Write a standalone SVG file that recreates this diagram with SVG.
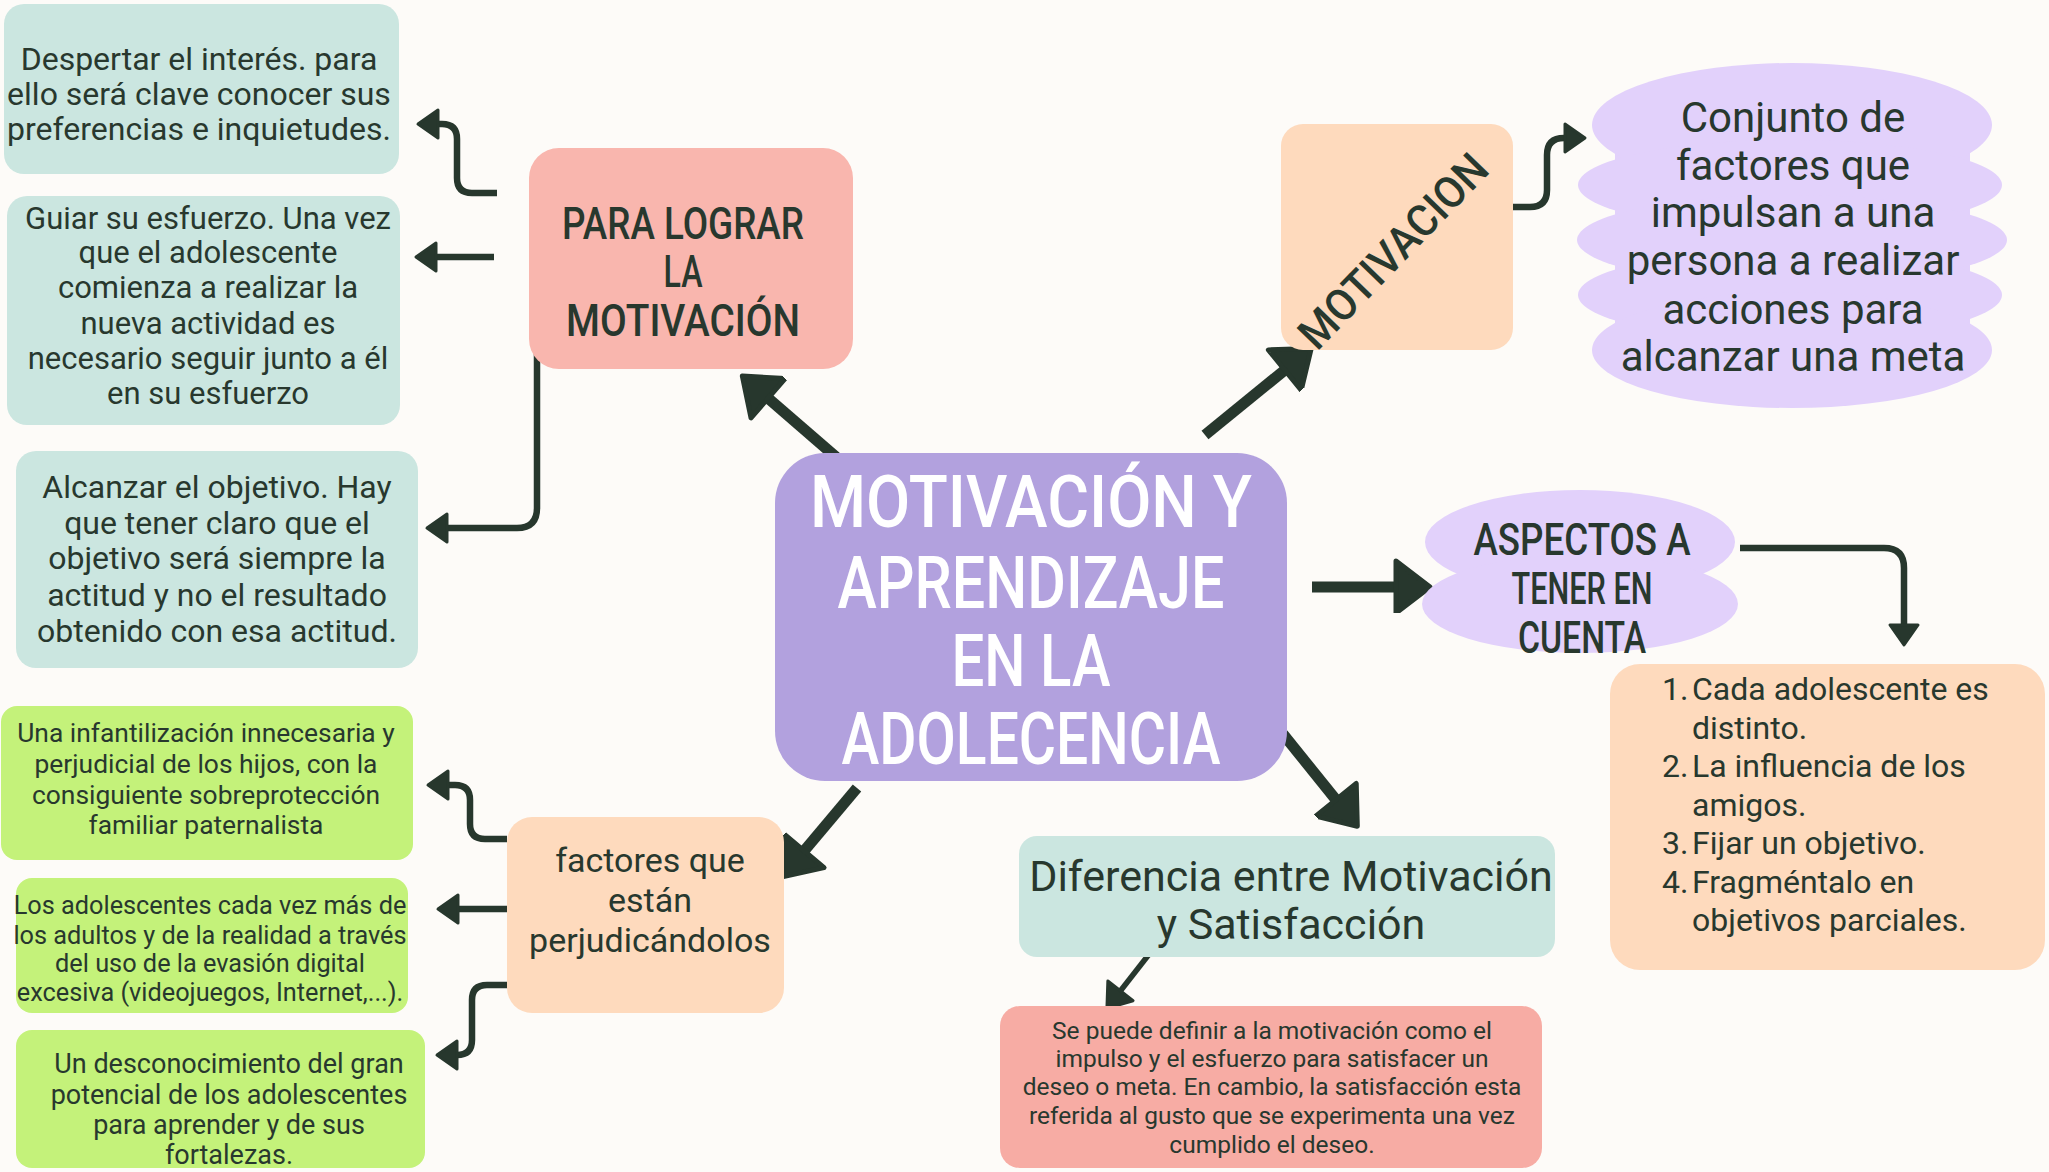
<svg xmlns="http://www.w3.org/2000/svg" width="2049" height="1172" viewBox="0 0 2049 1172">
<style>
  text { font-family: Roboto, "Liberation Sans", sans-serif; fill: #28382e; text-anchor: middle; }
  .body32 { font-size: 32px; }
  .head { font-size: 44px; font-weight: 500; }
  .title { font-size: 72px; font-weight: 500; fill: #ffffff; }
  .teal { fill: #cbe6e0; }
  .salmon { fill: #f9b6ae; }
  .salmon2 { fill: #f7aca4; }
  .purple { fill: #b2a1de; }
  .peach { fill: #fedabd; }
  .lav { fill: #e2d1fb; }
  .lime { fill: #c4f27a; }
  .thick { fill: none; stroke: #27372d; stroke-width: 11; }
  .thin { fill: none; stroke: #27372d; stroke-width: 6.5; stroke-linejoin: round; }
  .mid { fill: none; stroke: #27372d; stroke-width: 5.5; }
</style>
<defs>
  <marker id="headBig" markerUnits="userSpaceOnUse" markerWidth="44" markerHeight="56" refX="8" refY="26" orient="auto" viewBox="-4 -4 44 56">
    <path d="M0,0 L34,26 L0,52 Z" fill="#27372d" stroke="#27372d" stroke-width="5" stroke-linejoin="round"/>
  </marker>
  <marker id="headSmall" markerUnits="userSpaceOnUse" markerWidth="30" markerHeight="36" refX="4" refY="14" orient="auto" viewBox="-4 -4 30 36">
    <path d="M0,0 L20,14 L0,28 Z" fill="#27372d" stroke="#27372d" stroke-width="3" stroke-linejoin="round"/>
  </marker>
  <marker id="headMid" markerUnits="userSpaceOnUse" markerWidth="34" markerHeight="40" refX="4" refY="16" orient="auto" viewBox="-4 -4 34 40">
    <path d="M0,0 L22,16 L0,32 Z" fill="#27372d" stroke="#27372d" stroke-width="3" stroke-linejoin="round"/>
  </marker>
</defs>
<rect width="2049" height="1172" fill="#fdfbf8"/>

<g id="connectors">
  <path class="thick" d="M836,457 L762,393" marker-end="url(#headBig)"/>
  <path class="thick" d="M1205,435 L1291,365" marker-end="url(#headBig)"/>
  <path class="thick" d="M1312,587 L1404,587" marker-end="url(#headBig)"/>
  <path class="thick" d="M1283,734 L1341,806" marker-end="url(#headBig)"/>
  <path class="thick" d="M857,788 L799,857" marker-end="url(#headBig)"/>
  <path class="thin" d="M497,193 H472 Q457,193 457,178 V139 Q457,124 442,124 H434" marker-end="url(#headSmall)"/>
  <path class="thin" d="M494,257 H432" marker-end="url(#headSmall)"/>
  <path class="thin" d="M537,350 V508 Q537,528 517,528 H443" marker-end="url(#headSmall)"/>
  <path class="thin" d="M1510,207 H1530 Q1547,207 1547,190 V155 Q1547,138 1564,138 H1569" marker-end="url(#headSmall)"/>
  <path class="thin" d="M1740,548 H1884 Q1904,548 1904,568 V629" marker-end="url(#headSmall)"/>
  <path class="mid" d="M1150,953 L1118,994" marker-end="url(#headMid)"/>
  <path class="thin" d="M507,839 H485 Q470,839 470,824 V800 Q470,785 455,785 H444" marker-end="url(#headSmall)"/>
  <path class="thin" d="M507,909 H454" marker-end="url(#headSmall)"/>
  <path class="thin" d="M513,985 H487 Q472,985 472,1000 V1040 Q472,1055 457,1055 H453" marker-end="url(#headSmall)"/>
</g>

<g id="node-despertar">
  <rect class="teal" x="4" y="4" width="395" height="170" rx="20"/>
  <text class="body32" x="199" y="70">Despertar el interés. para</text>
  <text class="body32" x="199" y="105">ello será clave conocer sus</text>
  <text class="body32" x="199" y="140">preferencias e inquietudes.</text>
</g>

<g id="node-guiar">
  <rect class="teal" x="7" y="196" width="393" height="229" rx="20"/>
  <g font-size="31">
    <text x="208" y="229">Guiar su esfuerzo. Una vez</text>
    <text x="208" y="263">que el adolescente</text>
    <text x="208" y="298">comienza a realizar la</text>
    <text x="208" y="334">nueva actividad es</text>
    <text x="208" y="369">necesario seguir junto a él</text>
    <text x="208" y="404">en su esfuerzo</text>
  </g>
</g>

<g id="node-alcanzar">
  <rect class="teal" x="16" y="451" width="402" height="217" rx="20"/>
  <text class="body32" x="217" y="498">Alcanzar el objetivo. Hay</text>
  <text class="body32" x="217" y="534">que tener claro que el</text>
  <text class="body32" x="217" y="569">objetivo será siempre la</text>
  <text class="body32" x="217" y="606">actitud y no el resultado</text>
  <text class="body32" x="217" y="642">obtenido con esa actitud.</text>
</g>

<g id="node-para-lograr">
  <rect class="salmon" x="529" y="148" width="324" height="221" rx="30"/>
  <text class="head" x="683" y="239" textLength="242" lengthAdjust="spacingAndGlyphs">PARA LOGRAR</text>
  <text class="head" x="683" y="287" textLength="39" lengthAdjust="spacingAndGlyphs">LA</text>
  <text class="head" x="683" y="336" textLength="234" lengthAdjust="spacingAndGlyphs">MOTIVACIÓN</text>
</g>

<g id="node-center">
  <rect class="purple" x="775" y="453" width="512" height="328" rx="50"/>
  <text class="title" x="1031" y="527" textLength="442" lengthAdjust="spacingAndGlyphs">MOTIVACIÓN Y</text>
  <text class="title" x="1031" y="608" textLength="387" lengthAdjust="spacingAndGlyphs">APRENDIZAJE</text>
  <text class="title" x="1031" y="686" textLength="159" lengthAdjust="spacingAndGlyphs">EN LA</text>
  <text class="title" x="1031" y="764" textLength="379" lengthAdjust="spacingAndGlyphs">ADOLECENCIA</text>
</g>

<g id="node-motivacion">
  <rect class="peach" x="1281" y="124" width="232" height="226" rx="22"/>
  <text class="head" x="0" y="14" font-size="40" transform="translate(1394,252) rotate(-46)" textLength="251" lengthAdjust="spacingAndGlyphs">MOTIVACION</text>
</g>

<g id="node-conjunto">
  <g class="lav">
    <rect x="1615" y="110" width="355" height="260"/>
    <ellipse cx="1792" cy="125" rx="200" ry="62"/>
    <ellipse cx="1790" cy="185" rx="212" ry="45"/>
    <ellipse cx="1792" cy="240" rx="215" ry="45"/>
    <ellipse cx="1790" cy="295" rx="212" ry="45"/>
    <ellipse cx="1792" cy="350" rx="200" ry="58"/>
  </g>
  <g font-size="42">
    <text x="1793" y="132">Conjunto de</text>
    <text x="1793" y="180">factores que</text>
    <text x="1793" y="227">impulsan a una</text>
    <text x="1793" y="275">persona a realizar</text>
    <text x="1793" y="324">acciones para</text>
    <text x="1793" y="371">alcanzar una meta</text>
  </g>
</g>

<g id="node-aspectos">
  <g class="lav">
    <ellipse cx="1580" cy="542" rx="155" ry="52"/>
    <ellipse cx="1580" cy="604" rx="158" ry="49"/>
  </g>
  <text class="head" x="1582" y="555" textLength="217" lengthAdjust="spacingAndGlyphs">ASPECTOS A</text>
  <text class="head" x="1582" y="604" textLength="141" lengthAdjust="spacingAndGlyphs">TENER EN</text>
  <text class="head" x="1582" y="653" textLength="128" lengthAdjust="spacingAndGlyphs">CUENTA</text>
</g>

<g id="node-lista">
  <rect class="peach" x="1610" y="664" width="435" height="306" rx="30"/>
  <g font-size="32">
    <text x="1662" y="700" style="text-anchor:start">1.</text>
    <text x="1692" y="700" style="text-anchor:start">Cada adolescente es</text>
    <text x="1692" y="739" style="text-anchor:start">distinto.</text>
    <text x="1662" y="777" style="text-anchor:start">2.</text>
    <text x="1692" y="777" style="text-anchor:start">La influencia de los</text>
    <text x="1692" y="816" style="text-anchor:start">amigos.</text>
    <text x="1662" y="854" style="text-anchor:start">3.</text>
    <text x="1692" y="854" style="text-anchor:start">Fijar un objetivo.</text>
    <text x="1662" y="893" style="text-anchor:start">4.</text>
    <text x="1692" y="893" style="text-anchor:start">Fragméntalo en</text>
    <text x="1692" y="931" style="text-anchor:start">objetivos parciales.</text>
  </g>
</g>

<g id="node-diferencia">
  <rect class="teal" x="1019" y="836" width="536" height="121" rx="18"/>
  <text x="1291" y="891" font-size="43">Diferencia entre Motivación</text>
  <text x="1291" y="939" font-size="43">y Satisfacción</text>
</g>

<g id="node-se-puede">
  <rect class="salmon2" x="1000" y="1006" width="542" height="162" rx="20"/>
  <g font-size="24.5">
    <text x="1272" y="1039">Se puede definir a la motivación como el</text>
    <text x="1272" y="1067">impulso y el esfuerzo para satisfacer un</text>
    <text x="1272" y="1095">deseo o meta. En cambio, la satisfacción esta</text>
    <text x="1272" y="1124">referida al gusto que se experimenta una vez</text>
    <text x="1272" y="1153">cumplido el deseo.</text>
  </g>
</g>

<g id="node-factores">
  <rect class="peach" x="507" y="817" width="277" height="196" rx="25"/>
  <text x="650" y="872" font-size="34">factores que</text>
  <text x="650" y="912" font-size="34">están</text>
  <text x="650" y="952" font-size="34">perjudicándolos</text>
</g>

<g id="node-infantilizacion">
  <rect class="lime" x="1" y="706" width="412" height="154" rx="16"/>
  <g font-size="26.4">
    <text x="206" y="742">Una infantilización innecesaria y</text>
    <text x="206" y="773">perjudicial de los hijos, con la</text>
    <text x="206" y="804">consiguiente sobreprotección</text>
    <text x="206" y="834">familiar paternalista</text>
  </g>
</g>

<g id="node-adolescentes">
  <rect class="lime" x="16" y="878" width="392" height="135" rx="16"/>
  <g font-size="25.3">
    <text x="210" y="914">Los adolescentes cada vez más de</text>
    <text x="210" y="944">los adultos y de la realidad a través</text>
    <text x="210" y="972">del uso de la evasión digital</text>
    <text x="210" y="1001">excesiva (videojuegos, Internet,...).</text>
  </g>
</g>

<g id="node-desconocimiento">
  <rect class="lime" x="16" y="1030" width="409" height="138" rx="16"/>
  <g font-size="27">
    <text x="229" y="1073">Un desconocimiento del gran</text>
    <text x="229" y="1104">potencial de los adolescentes</text>
    <text x="229" y="1134">para aprender y de sus</text>
    <text x="229" y="1164">fortalezas.</text>
  </g>
</g>
</svg>
